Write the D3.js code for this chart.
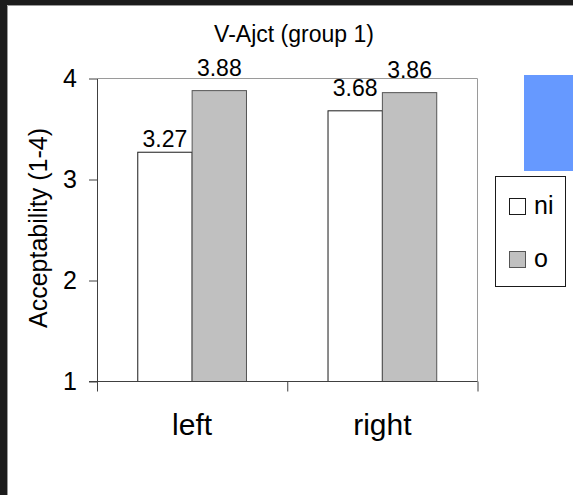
<!DOCTYPE html>
<html>
<head>
<meta charset="utf-8">
<script src="https://cdn.jsdelivr.net/npm/d3@7"></script>
<style>
  html, body { margin: 0; padding: 0; background: #fff; }
  svg { display: block; }
  text { font-family: "Liberation Sans", Arial, sans-serif; fill: #000; }
</style>
</head>
<body>
<script>
// Chart data
const title = "V-Ajct (group 1)";
const yTitle = "Acceptability (1-4)";
const categories = ["left", "right"];
const seriesNames = ["ni", "o"];
const niValues = [3.27, 3.68];
const oValues = [3.88, 3.86];
const yTicks = [1, 2, 3, 4];

const seriesValues = [niValues, oValues];
const seriesFill = ["#ffffff", "#c0c0c0"];
const seriesStroke = ["#1a1a1a", "#555555"];

// how far each value label sits above its bar
const labelLift = { "left|ni": 5, "left|o": 15, "right|ni": 15, "right|o": 15 };

const W = 573, H = 495;
const plot = { left: 97, right: 477.5, top: 78.5, bottom: 381.5 };

const svg = d3.select("body").append("svg")
  .attr("width", W).attr("height", H);

svg.append("rect").attr("width", W).attr("height", H).attr("fill", "#fff");

// dark window frame on the top and left edges
svg.append("rect").attr("x", 0).attr("y", 0).attr("width", W).attr("height", 5).attr("fill", "#1c1c1c");
svg.append("rect").attr("x", 0).attr("y", 0).attr("width", 7).attr("height", H).attr("fill", "#1c1c1c");
svg.append("line").attr("x1", 7.5).attr("x2", W).attr("y1", 5.5).attr("y2", 5.5).attr("stroke", "#9a9a9a");
svg.append("line").attr("x1", 7.5).attr("x2", 7.5).attr("y1", 5.5).attr("y2", H).attr("stroke", "#9a9a9a");

// Scales
const y = d3.scaleLinear().domain([1, 4]).range([plot.bottom, plot.top]);
const x0 = d3.scaleBand().domain(categories).range([plot.left, plot.right]).paddingInner(0).paddingOuter(0);
const x1 = d3.scaleBand().domain(seriesNames).range([0, x0.bandwidth()]).paddingInner(0).paddingOuter(0.75);

// Plot area border (top and right)
svg.append("path")
  .attr("d", `M${plot.left},${plot.top}H${plot.right}V${plot.bottom}`)
  .attr("fill", "none").attr("stroke", "#9a9a9a").attr("stroke-width", 1);

// Bars
const groups = svg.append("g").selectAll("g")
  .data(categories)
  .join("g")
  .attr("transform", d => `translate(${x0(d)},0)`);

groups.selectAll("rect")
  .data((c, ci) => seriesNames.map((s, si) => ({ cat: c, s, si, v: seriesValues[si][ci] })))
  .join("rect")
  .attr("x", d => x1(d.s))
  .attr("y", d => y(d.v))
  .attr("width", x1.bandwidth())
  .attr("height", d => y(1) - y(d.v))
  .attr("fill", d => seriesFill[d.si])
  .attr("stroke", d => seriesStroke[d.si])
  .attr("stroke-width", 1);

// Value labels
groups.selectAll("text.val")
  .data((c, ci) => seriesNames.map((s, si) => ({ cat: c, s, si, v: seriesValues[si][ci] })))
  .join("text")
  .attr("class", "val")
  .attr("x", d => x1(d.s) + x1.bandwidth() / 2)
  .attr("y", d => y(d.v) - labelLift[d.cat + "|" + d.s])
  .attr("text-anchor", "middle")
  .style("font-size", "23px")
  .text(d => d.v.toFixed(2));

// Y axis
const yAxis = svg.append("g")
  .attr("transform", `translate(${plot.left},0)`)
  .call(d3.axisLeft(y).tickValues(yTicks).tickFormat(d3.format("d")).tickSize(8).tickSizeOuter(0).tickPadding(12));
yAxis.select(".domain").attr("stroke", "#404040");
yAxis.selectAll(".tick line").attr("stroke", "#404040");
yAxis.selectAll(".tick text").style("font-size", "25px").style("font-family", "'Liberation Sans', Arial, sans-serif").attr("fill", "#000");

// X axis: boundary ticks between categories
const edges = d3.scalePoint().domain(d3.range(categories.length + 1)).range([plot.left, plot.right]);
const xTickAxis = svg.append("g")
  .attr("transform", `translate(0,${plot.bottom})`)
  .call(d3.axisBottom(edges).tickSize(10).tickSizeOuter(0).tickFormat(""));
xTickAxis.select(".domain").remove();
xTickAxis.selectAll(".tick line").attr("stroke", "#404040");
svg.append("line")
  .attr("x1", plot.left - 8).attr("x2", plot.right)
  .attr("y1", plot.bottom).attr("y2", plot.bottom)
  .attr("stroke", "#404040");

// X axis category labels
const xLabelAxis = svg.append("g")
  .attr("transform", `translate(0,${plot.bottom})`)
  .call(d3.axisBottom(x0).tickSize(0).tickPadding(32));
xLabelAxis.select(".domain").remove();
xLabelAxis.selectAll(".tick text").style("font-size", "30px").style("font-family", "'Liberation Sans', Arial, sans-serif").attr("fill", "#000");

// Title
svg.append("text")
  .attr("x", 294).attr("y", 42)
  .attr("text-anchor", "middle")
  .style("font-size", "23px")
  .text(title);

// Y axis title
svg.append("text")
  .attr("transform", `translate(47,${(plot.top + plot.bottom) / 2 - 2}) rotate(-90)`)
  .attr("text-anchor", "middle")
  .style("font-size", "25px")
  .text(yTitle);

// Blue block at the right edge
svg.append("rect")
  .attr("x", 524).attr("y", 75).attr("width", W - 524).attr("height", 96)
  .attr("fill", "#6699ff");

// Legend
const legend = svg.append("g");
legend.append("rect")
  .attr("x", 495.5).attr("y", 176.5).attr("width", 70).attr("height", 110)
  .attr("fill", "#fff").attr("stroke", "#1a1a1a");
const items = legend.selectAll("g.item")
  .data(seriesNames)
  .join("g")
  .attr("class", "item")
  .attr("transform", (d, i) => `translate(0,${i * 53})`);
items.append("rect")
  .attr("x", 509.5).attr("y", 198.5).attr("width", 16).attr("height", 16)
  .attr("fill", (d, i) => seriesFill[i])
  .attr("stroke", (d, i) => seriesStroke[i]);
items.append("text")
  .attr("x", 534).attr("y", 213.5)
  .style("font-size", "25px")
  .text(d => d);
</script>
</body>
</html>
